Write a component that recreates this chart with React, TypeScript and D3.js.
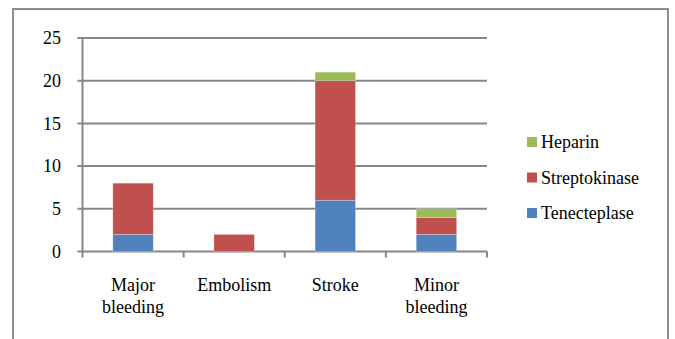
import React from "react";
import * as d3 from "d3";

const categories = [["Major", "bleeding"], ["Embolism"], ["Stroke"], ["Minor", "bleeding"]];
const seriesNames = ["Tenecteplase", "Streptokinase", "Heparin"];
const tenecteplase = [2, 0, 6, 2];
const streptokinase = [6, 2, 14, 2];
const heparin = [0, 0, 1, 1];
const yTicks = [0, 5, 10, 15, 20, 25];
const colors = ["#4F81BD", "#C0504D", "#9BBB59"];

const W = 675;
const H = 339;
const plot = { left: 82.5, right: 487, top: 38, bottom: 251.5 };

export default function App() {
  const keys = categories.map((_, i) => String(i));
  const x = d3.scaleBand().domain(keys).range([plot.left, plot.right]).paddingInner(0.6).paddingOuter(0.3);
  const xOuter = d3.scaleBand().domain(keys).range([plot.left, plot.right]);
  const y = d3.scaleLinear().domain([0, 25]).range([plot.bottom, plot.top]);

  const rows = categories.map((_, i) => ({
    Tenecteplase: tenecteplase[i],
    Streptokinase: streptokinase[i],
    Heparin: heparin[i],
  }));
  const stacked = d3.stack<any>().keys(seriesNames)(rows);

  const gridColor = "#878787";

  return (
    <svg
      width={W}
      height={H}
      style={{ position: "absolute", left: 0, top: 0, background: "#fff", fontFamily: "Liberation Serif, serif", fontSize: "18px" }}
    >
      {/* chart frame */}
      <rect x={13} y={9} width={655} height={H} fill="#fff" stroke="#8c8c8c" strokeWidth={2} />

      {/* horizontal gridlines with value labels */}
      {yTicks.map((t) => (
        <g key={t}>
          <line x1={plot.left - 5} x2={plot.right} y1={y(t)} y2={y(t)} stroke={gridColor} strokeWidth={2} />
          <text x={61} y={y(t)} dy="0.35em" textAnchor="end" fill="#000">
            {t}
          </text>
        </g>
      ))}
      <line x1={plot.left} x2={plot.left} y1={plot.top} y2={plot.bottom} stroke={gridColor} strokeWidth={2} />

      {/* category tick marks */}
      {keys.map((k) => (
        <line key={"t" + k} x1={xOuter(k)!} x2={xOuter(k)!} y1={plot.bottom} y2={plot.bottom + 6} stroke={gridColor} strokeWidth={2} />
      ))}
      <line x1={plot.right} x2={plot.right} y1={plot.bottom} y2={plot.bottom + 6} stroke={gridColor} strokeWidth={2} />

      {/* stacked bars */}
      {stacked.map((s, si) =>
        s.map((d, i) =>
          d[1] - d[0] > 0 ? (
            <rect
              key={si + "-" + i}
              x={x(keys[i])!}
              width={x.bandwidth()}
              y={y(d[1])}
              height={y(d[0]) - y(d[1])}
              fill={colors[si]}
              stroke="#ffffff"
              strokeOpacity={0.35}
              strokeWidth={0.75}
            />
          ) : null
        )
      )}

      {/* category labels */}
      {categories.map((lines, i) => (
        <text key={"c" + i} textAnchor="middle" fill="#000">
          {lines.map((ln, j) => (
            <tspan key={j} x={xOuter(keys[i])! + xOuter.bandwidth() / 2} y={291 + j * 22}>
              {ln}
            </tspan>
          ))}
        </text>
      ))}

      {/* legend, top series first */}
      {seriesNames
        .map((n, i) => ({ n, i }))
        .reverse()
        .map(({ n, i }, j) => (
          <g key={n} transform={`translate(527, ${142 + j * 35.5})`}>
            <rect x={0} y={-5} width={10} height={10} fill={colors[i]} />
            <text x={14} y={0} dy="0.35em" fill="#000">
              {n}
            </text>
          </g>
        ))}
    </svg>
  );
}
